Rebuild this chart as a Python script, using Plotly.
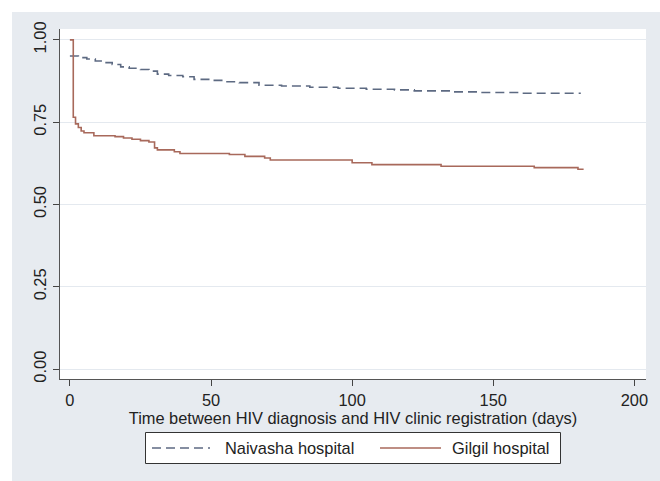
import plotly.graph_objects as go

# ---- data ----
series_names = ["Naivasha hospital", "Gilgil hospital"]

naivasha_days = [0, 3, 6, 9, 12, 15, 18, 21, 25, 28, 31, 35, 40, 44, 50, 55, 60, 67,
                 75, 85, 95, 105, 115, 122, 135, 145, 160, 181]
naivasha_surv = [0.951, 0.946, 0.942, 0.936, 0.931, 0.925, 0.918, 0.914, 0.910, 0.905,
                 0.896, 0.892, 0.888, 0.880, 0.877, 0.873, 0.870, 0.862, 0.860, 0.856,
                 0.853, 0.850, 0.848, 0.845, 0.842, 0.840, 0.838, 0.838]

gilgil_days = [0, 1.2, 2, 3, 4, 5, 8.5, 16, 19, 22, 25, 28, 30, 31, 37, 39, 56.5, 62,
               69, 71, 100, 107, 131.5, 164.5, 180, 182]
gilgil_surv = [1.0, 0.765, 0.745, 0.734, 0.723, 0.718, 0.709, 0.706, 0.702, 0.698,
               0.694, 0.690, 0.672, 0.666, 0.660, 0.655, 0.652, 0.646, 0.641, 0.635,
               0.627, 0.621, 0.616, 0.612, 0.607, 0.607]

x_ticks = [0, 50, 100, 150, 200]
y_ticks = [0, 0.25, 0.5, 0.75, 1.0]
y_tick_labels = ["0.00", "0.25", "0.50", "0.75", "1.00"]
x_title = "Time between HIV diagnosis and HIV clinic registration (days)"

# ---- styles ----
C_NAV = "#5d6a82"
C_GIL = "#a8695b"
BG = "#e7ebf0"
GRID = "#e4e9ef"
FONT = "Liberation Sans, Arial, sans-serif"
FS = 16.4

fig = go.Figure()
fig.add_trace(go.Scatter(x=naivasha_days, y=naivasha_surv, mode="lines",
                         line=dict(shape="hv", color=C_NAV, width=1.6, dash="9px,5px"),
                         name=series_names[0], showlegend=False))
fig.add_trace(go.Scatter(x=gilgil_days, y=gilgil_surv, mode="lines",
                         line=dict(shape="hv", color=C_GIL, width=1.6),
                         name=series_names[1], showlegend=False))

W, H = 660, 481
L, R, T, B = 60, 14, 29, 102
pw, ph = W - L - R, H - T - B

def px_x(p):
    return (p - L) / pw

def px_y(p):
    return (H - B - p) / ph

shapes = [
    # grey graph region
    dict(type="rect", xref="paper", yref="paper", x0=px_x(12), x1=px_x(660),
         y0=px_y(12), y1=px_y(481), fillcolor=BG, line=dict(width=0), layer="below"),
    # white plot region
    dict(type="rect", xref="paper", yref="paper", x0=0, x1=1, y0=0, y1=1,
         fillcolor="white", line=dict(width=0), layer="below"),
    # legend box
    dict(type="rect", xref="paper", yref="paper", x0=px_x(145.5), x1=px_x(560.5),
         y0=px_y(432.5), y1=px_y(463.5), fillcolor="white",
         line=dict(color="#333333", width=1)),
    # legend samples
    dict(type="line", xref="paper", yref="paper", x0=px_x(152), x1=px_x(210),
         y0=px_y(448), y1=px_y(448), line=dict(color=C_NAV, width=1.6, dash="9px,5px")),
    dict(type="line", xref="paper", yref="paper", x0=px_x(380), x1=px_x(441),
         y0=px_y(448), y1=px_y(448), line=dict(color=C_GIL, width=1.6)),
]

annotations = [
    dict(xref="paper", yref="paper", x=px_x(223), y=px_y(448), text=series_names[0],
         showarrow=False, xanchor="left", yanchor="middle",
         font=dict(family=FONT, size=FS, color="#222222")),
    dict(xref="paper", yref="paper", x=px_x(450), y=px_y(448), text=series_names[1],
         showarrow=False, xanchor="left", yanchor="middle",
         font=dict(family=FONT, size=FS, color="#222222")),
]

fig.update_layout(
    width=W, height=H,
    margin=dict(l=L, r=R, t=T, b=B, pad=0),
    paper_bgcolor="white", plot_bgcolor="white",
    font=dict(family=FONT, size=FS, color="#222222"),
    showlegend=False,
    shapes=shapes, annotations=annotations,
)

fig.update_xaxes(
    range=[-3.5, 204.1], tickmode="array", tickvals=x_ticks,
    ticks="outside", ticklen=6, tickcolor="#444444", tickwidth=1,
    showline=True, linecolor="#555555", linewidth=1.2,
    showgrid=False, zeroline=False, automargin=True,
    title=dict(text=x_title, standoff=1, font=dict(size=FS)),
)

fig.update_yaxes(
    range=[-0.030, 1.033], tickmode="array", tickvals=y_ticks, ticktext=y_tick_labels,
    tickangle=-90, automargin=False,
    ticks="outside", ticklen=6, tickcolor="#444444", tickwidth=1,
    showline=True, linecolor="#555555", linewidth=1.2,
    showgrid=True, gridcolor=GRID, gridwidth=1, zeroline=False,
)

fig.write_html("out.html", config={"displayModeBar": False},
               post_script="document.body.style.margin='0px';document.body.style.padding='0px';")
